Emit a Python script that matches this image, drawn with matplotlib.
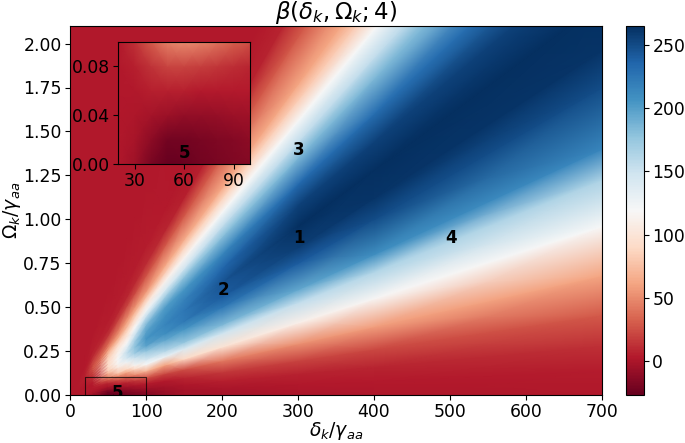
import numpy as np
import matplotlib
matplotlib.use("Agg")
import matplotlib.pyplot as plt

ratio = [0, .2, .4, .65, .97, 1.37, 1.75, 2.0, 2.5, 2.8, 3.2, 3.6, 4.0, 4.5, 4.8, 5.2, 5.6, 5.9, 6.8, 7.5, 8.5, 12, 1000]
delta = [5, 20, 30, 50, 63, 75, 85, 100, 125, 150, 200, 300, 400, 700]

d005 = [2, 2, 2, 2, 2, 2, 2, 2, 2, 2, 2, 2, 2, 2, 2, 2, 2, 2, 2, 2, 2, 2, 2]
d020 = [2, 2, 2, 2, 2, 2, 2, 2, 3, 3, 4, 4, 5, 6, 7, 7, 7, 6, 5, 4, 3, 2, 2]
d030 = [-5, -3, -1, 1, 2, 3, 3, 3, 6, 8, 10, 14, 18, 22, 24, 26, 25, 23, 16, 9, 5, 2, 2]
d050 = [-27, -25, -22, -10, -1, 8, 30, 45, 70, 83, 90, 90, 88, 78, 70, 55, 42, 34, 14, 7, 4, 2, 2]
d063 = [-25, -22, -15, -6, 4, 25, 55, 80, 105, 115, 119, 115, 108, 92, 80, 60, 48, 40, 18, 8, 4, 2, 2]
d075 = [-21, -19, -12, -3, 8, 35, 65, 90, 125, 145, 155, 140, 118, 100, 90, 72, 58, 48, 20, 8, 4, 2, 2]
d085 = [-18, -15, -8, 0, 15, 50, 90, 115, 150, 170, 178, 170, 150, 119, 105, 85, 65, 52, 23, 9, 4, 2, 2]
d100 = [-15, -12, -4, 4, 25, 70, 119, 140, 175, 197, 205, 198, 185, 150, 125, 100, 72, 55, 26, 10, 4, 2, 2]
d125 = [-8, -6, -3, 3, 22, 60, 130, 160, 195, 210, 215, 210, 200, 168, 140, 112, 80, 62, 28, 8, 3, 2, 2]
d150 = [-3, -2, 1, 8, 25, 90, 140, 175, 205, 222, 225, 218, 205, 175, 148, 115, 85, 65, 28, 6, 2, 2, 2]
d200 = [-2, 0, 6, 16, 42, 98, 148, 185, 225, 240, 245, 235, 215, 180, 155, 119, 85, 62, 28, 6, 2, 2, 2]
d300 = [0, 2, 7, 20, 52, 110, 155, 195, 240, 258, 265, 255, 232, 185, 155, 119, 82, 61, 28, 8, 2, 2, 2]
d400 = [1, 3, 8, 23, 58, 117, 163, 210, 250, 262, 265, 255, 230, 185, 155, 119, 80, 61, 28, 6, 2, 2, 2]
d700 = [2, 4, 12, 30, 61, 119, 165, 215, 250, 262, 265, 255, 230, 185, 155, 119, 80, 61, 28, 6, 2, 2, 2]

beta = np.array([d005, d020, d030, d050, d063, d075, d085, d100, d125, d150, d200, d300, d400, d700]).T

# zoomed region
omega_in = [0, .02, .04, .06, .08, .1]
delta_in = [20, 30, 40, 50, 60, 70, 80, 90, 100]
o000 = [2, -5, -20, -27, -25, -22, -20, -17, -15]
o002 = [2, -1, -12, -22, -22, -20, -17, -15, -12]
o004 = [2, 1, -2, -6, -9, -9, -8, -6, -5]
o006 = [2, 2, 5, 6, 5, 3, 3, 3, 3]
o008 = [2, 6, 14, 20, 20, 18, 15, 11, 8]
o010 = [2, 12, 30, 45, 50, 47, 40, 32, 25]
beta_in = np.array([o000, o002, o004, o006, o008, o010])

labels = ['1', '2', '3', '4', '5']
label_x = [301, 202, 301, 501, 62]
label_y = [0.895, 0.595, 1.395, 0.895, 0.01]

vmin, vmax = -27, 265
fs = 12.4

fig = plt.figure(figsize=(6.85, 4.43), dpi=100)
W, H = 685., 443.
ax = fig.add_axes([70/W, 1-395/H, 532/W, 369/H])
X, R = np.meshgrid(delta, ratio)
m = ax.pcolormesh(X, R*1e-3*X, beta, cmap='RdBu', vmin=vmin, vmax=vmax, shading='gouraud')
ax.set_facecolor(m.cmap(m.norm(2)))
ax.set_xlim(0, 700)
ax.set_ylim(0, 2.1)
ax.set_xticks(range(0, 701, 100))
ax.set_yticks(np.arange(0, 2.11, 0.25))
ax.set_yticklabels(['%.2f' % v for v in np.arange(0, 2.11, 0.25)])
ax.tick_params(labelsize=fs, pad=2.5)
ax.set_xlabel(r'$\delta_k/\gamma_{aa}$', fontsize=13.5, labelpad=-1)
ax.set_ylabel(r'$\Omega_k/\gamma_{aa}$', fontsize=13.5, labelpad=0)
ax.set_title(r'$\beta(\delta_k, \Omega_k; 4)$', fontsize=16.5, pad=3)

for s, x, y in zip(labels, label_x, label_y):
    ax.text(x, y, s, fontsize=12, fontweight='bold', ha='center', va='center', clip_on=True)

ax.plot([20, 20, 100, 100], [0, 0.1, 0.1, 0], color='k', lw=0.8, alpha=0.7)

axin = fig.add_axes([118/W, 1-164/H, 132/W, 122/H])
axin.pcolormesh(delta_in, omega_in, beta_in, cmap='RdBu', vmin=vmin, vmax=vmax, shading='gouraud')
axin.set_xlim(20, 100)
axin.set_ylim(0, 0.1)
axin.set_xticks([30, 60, 90])
axin.set_yticks([0, 0.04, 0.08])
axin.set_yticklabels(['0.00', '0.04', '0.08'])
axin.tick_params(labelsize=fs, pad=2.5)
axin.text(60, 0.009, '5', fontsize=12, fontweight='bold', ha='center', va='center')

cax = fig.add_axes([626/W, 1-395/H, 18/W, 369/H])
cb = fig.colorbar(m, cax=cax)
cb.set_ticks([0, 50, 100, 150, 200, 250])
cb.ax.tick_params(labelsize=fs, pad=2.5)

fig.savefig('out.png', dpi=100)
